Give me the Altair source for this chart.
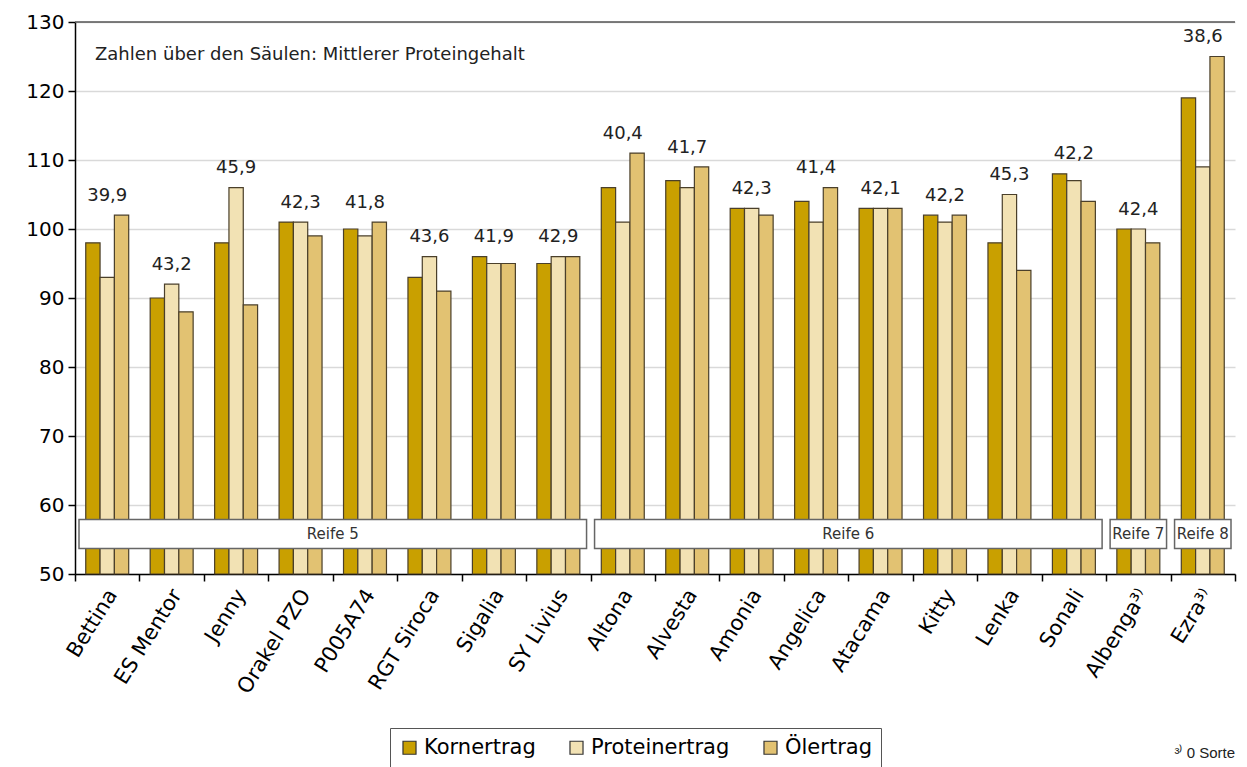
import altair as alt
import pandas as pd

sorten = ["Bettina", "ES Mentor", "Jenny", "Orakel PZO", "P005A74", "RGT Siroca",
          "Sigalia", "SY Livius", "Altona", "Alvesta", "Amonia", "Angelica",
          "Atacama", "Kitty", "Lenka", "Sonali", "Albenga³⁾", "Ezra³⁾"]
kornertrag = [98, 90, 98, 101, 100, 93, 96, 95, 106, 107, 103, 104, 103, 102, 98, 108, 100, 119]
proteinertrag = [93, 92, 106, 101, 99, 96, 95, 96, 101, 106, 103, 101, 103, 101, 105, 107, 100, 109]
oelertrag = [102, 88, 89, 99, 101, 91, 95, 96, 111, 109, 102, 106, 103, 102, 94, 104, 98, 125]
proteingehalt = ["39,9", "43,2", "45,9", "42,3", "41,8", "43,6", "41,9", "42,9", "40,4",
                 "41,7", "42,3", "41,4", "42,1", "42,2", "45,3", "42,2", "42,4", "38,6"]
serien = ["Kornertrag", "Proteinertrag", "Ölertrag"]
farben = ["#C9A000", "#F2E2B4", "#E2C272"]
reife_namen = ["Reife 5", "Reife 6", "Reife 7", "Reife 8"]
reife_erste = ["Bettina", "Altona", "Albenga³⁾", "Ezra³⁾"]
reife_letzte = ["SY Livius", "Sonali", "Albenga³⁾", "Ezra³⁾"]
hinweis = "Zahlen über den Säulen: Mittlerer Proteingehalt"
fussnote = "³⁾ 0 Sorte"

W, H = 1160, 552
FONT = "DejaVu Sans"

rows = []
for i, s in enumerate(sorten):
    for name, vals in zip(serien, [kornertrag, proteinertrag, oelertrag]):
        rows.append({"Sorte": s, "Serie": name, "Wert": vals[i]})
bars_df = pd.DataFrame(rows)

lab_df = pd.DataFrame({
    "Sorte": sorten,
    "Label": proteingehalt,
    "Top": [max(a, b, c) + 2.8 for a, b, c in zip(kornertrag, proteinertrag, oelertrag)],
})

reife_df = pd.DataFrame({
    "Reife": reife_namen,
    "Start": [sorten.index(s) for s in reife_erste],
    "Ende": [sorten.index(s) + 1 for s in reife_letzte],
})
reife_df["Mitte"] = (reife_df["Start"] + reife_df["Ende"]) / 2

xscale = alt.Scale(domain=sorten, paddingInner=0, paddingOuter=0)
yscale = alt.Scale(domain=[50, 130], nice=False, zero=False)
yaxis = alt.Axis(title=None, values=list(range(50, 131, 10)), tickSize=7, tickColor="black",
                 domainColor="black", domainWidth=1.5, tickWidth=1.5, labelFont=FONT,
                 labelFontSize=20, labelColor="black", labelPadding=4, grid=True,
                 gridColor="#d9d9d9", gridWidth=1.5)

bars = alt.Chart(bars_df).mark_bar(stroke="#4a3f2a", strokeWidth=1.2).encode(
    x=alt.X("Sorte:N", sort=sorten, scale=xscale,
            axis=alt.Axis(title=None, labelAngle=-58, labelAlign="right", labelBaseline="middle",
                          tickBand="extent", tickSize=7, tickColor="black", domainColor="black",
                          domainWidth=1.5, tickWidth=1.5, labelFont=FONT, labelFontSize=21,
                          labelColor="black", labelPadding=10, labelOffset=5, grid=False)),
    xOffset=alt.XOffset("Serie:N", sort=serien, scale=alt.Scale(domain=serien, paddingInner=0, paddingOuter=0.75)),
    y=alt.Y("Wert:Q", scale=yscale, axis=yaxis),
    y2=alt.datum(50),
    color=alt.Color("Serie:N", sort=serien, scale=alt.Scale(domain=serien, range=farben),
                    legend=alt.Legend(title=None, orient="none", legendX=315, legendY=706,
                                      direction="horizontal", strokeColor="#555", fillColor="white",
                                      padding=9, symbolType="square", symbolSize=170,
                                      symbolStrokeColor="#333", symbolStrokeWidth=1.2,
                                      symbolOpacity=1, labelFont=FONT, labelFontSize=21,
                                      labelColor="black", columnPadding=30, labelOffset=4)),
)

labels = alt.Chart(lab_df).mark_text(font=FONT, fontSize=18, color="#222", baseline="middle").encode(
    x=alt.X("Sorte:N", sort=sorten, scale=xscale, axis=None),
    y=alt.Y("Top:Q", scale=yscale, axis=yaxis),
    text="Label:N",
)

rscale = alt.Scale(domain=[0, len(sorten)], nice=False, zero=False)
reife_box = alt.Chart(reife_df).mark_rect(fill="white", stroke="#666", strokeWidth=1.5,
                                          xOffset=4, x2Offset=-4).encode(
    x=alt.X("Start:Q", scale=rscale, axis=None),
    x2="Ende:Q",
    y=alt.Y(datum=53.7, scale=yscale, axis=yaxis),
    y2=alt.datum(57.9),
)
reife_text = alt.Chart(reife_df).mark_text(font=FONT, fontSize=15, color="#333", baseline="middle").encode(
    x=alt.X("Mitte:Q", scale=rscale, axis=None),
    y=alt.Y(datum=55.8, scale=yscale, axis=yaxis),
    text="Reife:N",
)

top_rule = alt.Chart(pd.DataFrame({"v": [130]})).mark_rule(color="#555", strokeWidth=1.5).encode(
    y=alt.Y("v:Q", scale=yscale, axis=yaxis),
)

note = alt.Chart(pd.DataFrame({"t": [hinweis]})).mark_text(
    font=FONT, fontSize=18, align="left", baseline="middle", color="#222"
).encode(x=alt.value(20), y=alt.value(33), text="t:N")

foot = alt.Chart(pd.DataFrame({"t": [fussnote]})).mark_text(
    font="Liberation Sans", fontSize=15, align="right", baseline="middle", color="#222"
).encode(x=alt.value(W), y=alt.value(731), text="t:N")

chart = alt.layer(bars, labels, reife_box, reife_text, top_rule, note, foot).resolve_scale(
    x="independent"
).properties(
    width=W, height=H, padding={"left": 17, "top": 4, "right": 2, "bottom": 0}
).configure_view(stroke=None)

chart.save("out.html", embed_options={"renderer": "svg", "actions": False})
